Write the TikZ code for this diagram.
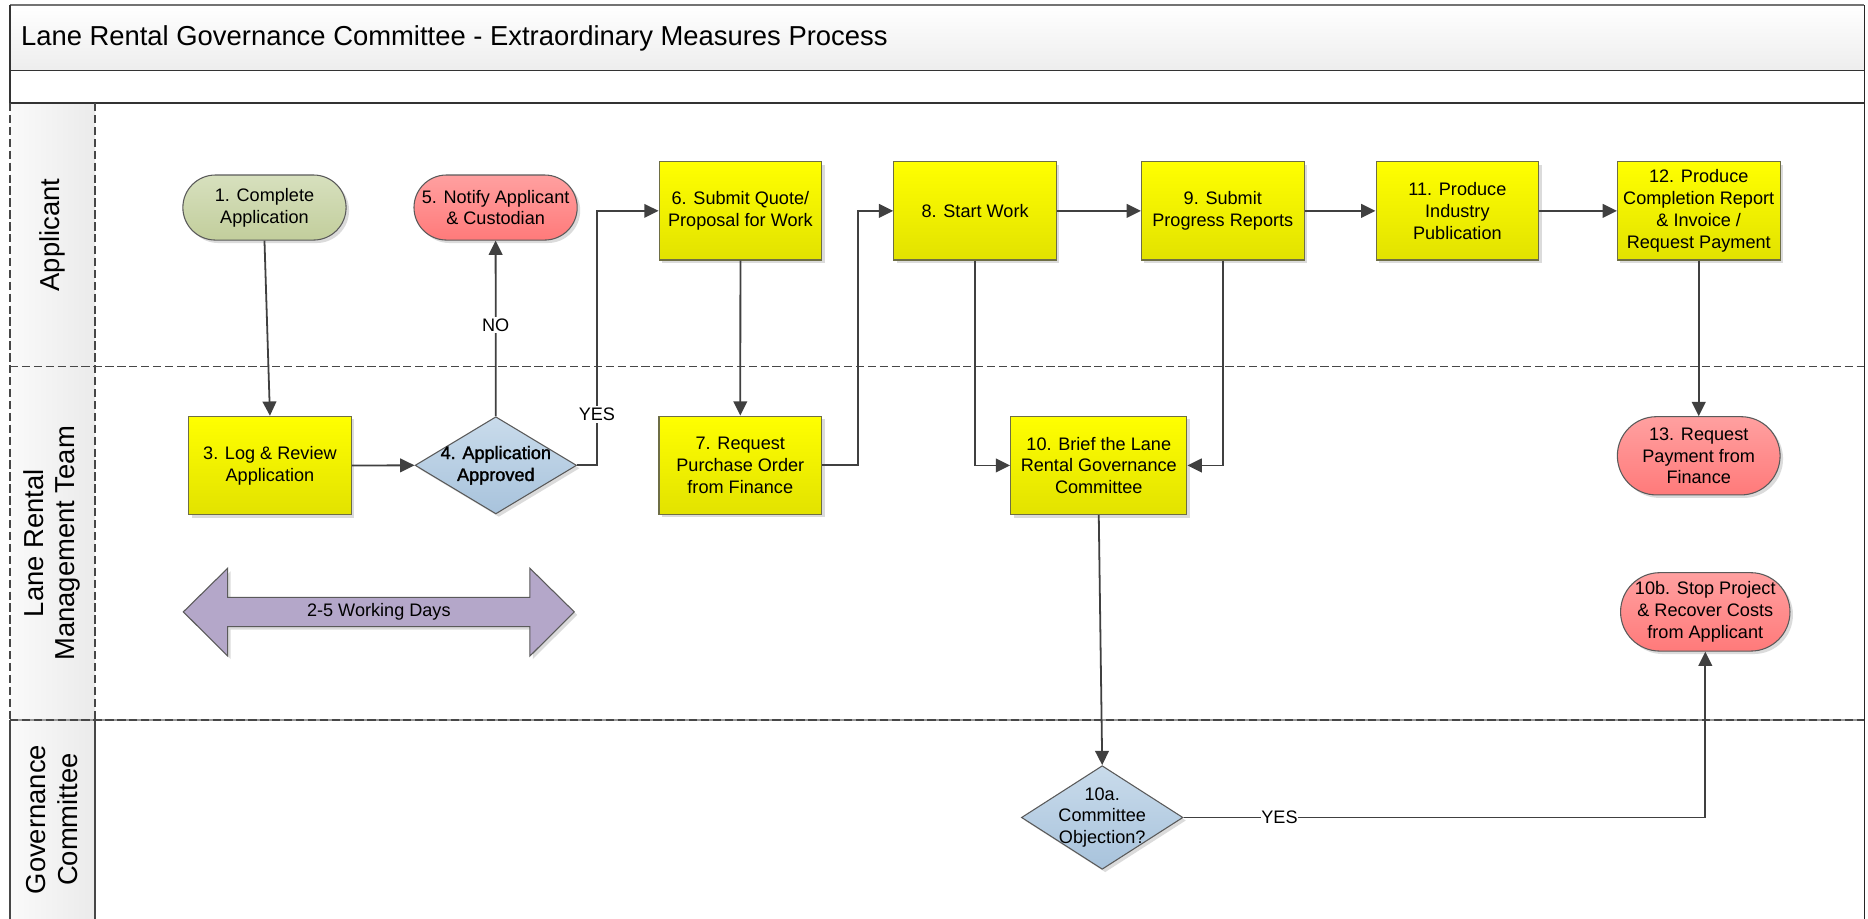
\documentclass[tikz,border=0pt]{standalone}
\usepackage{fontspec}
\setmainfont{Liberation Sans}
\newfontfamily\heavyfont[FakeBold=1.6]{Liberation Sans}
\usetikzlibrary{shapes.geometric,shapes.misc,arrows.meta,shadows}

\definecolor{ylwtop}{HTML}{FFFF00}
\definecolor{ylwbot}{HTML}{E2E200}
\definecolor{ylwedge}{HTML}{6E6E45}
\definecolor{grntop}{HTML}{D7E0BE}
\definecolor{grnbot}{HTML}{C2CE9C}
\definecolor{redtop}{HTML}{FFA0A0}
\definecolor{redbot}{HTML}{FF7A7A}
\definecolor{blutop}{HTML}{C9DBEB}
\definecolor{blubot}{HTML}{A8C3DC}
\definecolor{purp}{HTML}{B4A7C9}
\definecolor{flowc}{HTML}{404040}
\definecolor{outline}{HTML}{5A5A5A}
\definecolor{laneline}{HTML}{474747}

\begin{document}
\begin{tikzpicture}[x=1pt,y=-1pt,
  every node/.style={font=\fontsize{15.2}{18.4}\selectfont, text=black},
  shapebase/.style={draw=outline, line width=0.9pt, inner sep=0pt, align=center,
    drop shadow={shadow xshift=2.5pt, shadow yshift=-2.5pt, fill=black, opacity=0.14}},
  taskbox/.style={shapebase, rectangle, draw=ylwedge, top color=ylwtop, bottom color=ylwbot,
    minimum width=136.5, minimum height=82.5},
  startbox/.style={shapebase, rounded rectangle, top color=grntop, bottom color=grnbot},
  endbox/.style={shapebase, rounded rectangle, top color=redtop, bottom color=redbot},
  decision/.style={shapebase, diamond, top color=blutop, bottom color=blubot},
  flow/.style={draw=flowc, line width=1.5pt, -{Triangle[length=12pt,width=11.5pt]}},
  lbl/.style={fill=white, inner sep=1.5pt},
  lanetitle/.style={font=\fontsize{23}{26.6}\selectfont, rotate=90, align=center},
  lanedash/.style={draw=laneline, line width=1.25pt, dash pattern=on 7pt off 3pt},
  lanesolid/.style={draw=laneline, line width=1.1pt},
]
\clip (0,0) rectangle (1568,771.4);

% ---- pool frame -------------------------------------------------------
\shade[top color=white, bottom color=black!7] (8.4,4.2) rectangle (1565,59.3);
\shade[left color=black!2, right color=black!8] (8.4,86.5) rectangle (79.8,780);
\draw[draw=black!55, line width=1.2pt] (8.4,4.2) -- (1565,4.2);
\draw[lanesolid, draw=black!80] (8.4,4.2) -- (8.4,86.5);
\draw[lanesolid, draw=black!80] (8.4,59.3) -- (1565,59.3);
\draw[lanesolid, draw=black!80] (8.4,86.5) -- (1565,86.5);
\draw[lanesolid, draw=black!85, line width=1.3pt] (1565,4.2) -- (1565,780);

% governance lane (solid border)
\draw[lanesolid, draw=black!40] (8.4,604.4) -- (1565,604.4);
\draw[lanesolid] (8.4,604.4) -- (8.4,780);
\draw[lanesolid] (79.8,604.4) -- (79.8,780);

% applicant and management lanes (dashed border)
\draw[lanedash] (8.4,86.5) -- (8.4,604.4);
\draw[lanedash] (79.8,86.5) -- (79.8,604.4);
\draw[lanedash] (8.4,307.8) -- (1565,307.8);
\draw[lanedash] (8.4,604.4) -- (1565,604.4);

\node[anchor=west, font=\fontsize{23}{27}\selectfont, inner sep=0pt] (title) at (17.5,32)
  {Lane Rental Governance Committee - Extraordinary Measures Process};

\node[lanetitle] (laneA) at (44,197.2) {Applicant};
\node[lanetitle] (laneM) at (43.5,456) {Lane Rental\\Management Team};
\node[lanetitle] (laneG) at (43.5,688) {Governance\\Committee};

% ---- process steps ----------------------------------------------------
\node[startbox, minimum width=137, minimum height=54.6] (n1) at (222,174.2) {1. Complete\\Application};
\node[endbox, minimum width=137, minimum height=54.6] (n5) at (416,174.2) {5. Notify Applicant\\\& Custodian};
\node[taskbox] (n6) at (621.5,177) {6. Submit Quote/\\Proposal for Work};
\node[taskbox] (n8) at (818.5,177) {8. Start Work};
\node[taskbox] (n9) at (1026.4,177) {9. Submit\\Progress Reports};
\node[taskbox] (n11) at (1223.3,177) {11. Produce\\Industry\\Publication};
\node[taskbox] (n12) at (1425.9,177) {12. Produce\\Completion Report\\\& Invoice /\\Request Payment};

\node[taskbox] (n3) at (226.6,390.7) {3. Log \& Review\\Application};
\node[decision, minimum width=135.6, minimum height=81.6] (n4) at (416.2,390.6) {};
\node[align=center, font=\heavyfont\fontsize{15.2}{18.4}\selectfont] (n4txt) at (n4.center) {4. Application\\Approved};
\node[taskbox] (n7) at (621.4,390.6) {7. Request\\Purchase Order\\from Finance};
\node[taskbox, minimum width=148] (n10) at (922.3,390.7) {10. Brief the Lane\\Rental Governance\\Committee};
\node[endbox, minimum width=136.6, minimum height=65.7] (n13) at (1425.9,382.6) {13. Request\\Payment from\\Finance};

\node[endbox, minimum width=135.6, minimum height=65.8] (n10b) at (1431.4,513.6) {10b. Stop Project\\\& Recover Costs\\from Applicant};
\node[decision, minimum width=135.6, minimum height=87] (n10a) at (925.2,686.2) {};
\node[align=center] (n10atxt) at (n10a.center) {10a.\\Committee\\Objection?};

% duration marker
\fill[black!14] (156.4,516.1) -- (193.6,479.5) -- (193.6,503.9) -- (447.3,503.9) -- (447.3,479.5)
  -- (484.5,516.1) -- (447.3,553.2) -- (447.3,528.5) -- (193.6,528.5) -- (193.6,553.2) -- cycle;
\draw[fill=purp, draw=outline, line width=0.9pt] (153.9,513.6) -- (191.1,477) -- (191.1,501.4)
  -- (444.8,501.4) -- (444.8,477) -- (482,513.6) -- (444.8,550.7) -- (444.8,526)
  -- (191.1,526) -- (191.1,550.7) -- cycle;
\node (span) at (318,513.7) {2-5 Working Days};

% ---- connectors -------------------------------------------------------
\draw[flow] (n1.south) -- (n3.north);
\draw[flow] (n3.east) -- (n4.west);
\draw[flow] (n4.north) -- node[lbl, pos=0.52] (no) {NO} (n5.south);
\draw[flow] (n4.east) -- ++(16.6,0) |- node[lbl, pos=0.1] (yes1) {YES} (n6.west);
\draw[flow] (n6.south) -- (n7.north);
\draw[flow] (n7.east) -- ++(29.8,0) |- (n8.west);
\draw[flow] (n8.east) -- (n9.west);
\draw[flow] (n9.east) -- (n11.west);
\draw[flow] (n11.east) -- (n12.west);
\draw[flow] (n8.south) |- (n10.west);
\draw[flow] (n9.south) |- (n10.east);
\draw[flow] (n12.south) -- (n13.north);
\draw[flow] (n10.south) -- (n10a.north);
\draw[flow] (n10a.east) -| node[lbl, pos=0.092, inner sep=0.5pt] (yes2) {YES} (n10b.south);
\end{tikzpicture}
\end{document}
